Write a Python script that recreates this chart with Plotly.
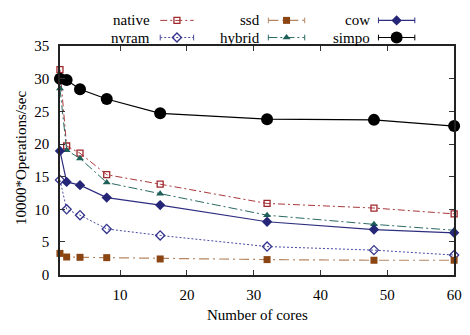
import plotly.graph_objects as go

cores = [1, 2, 4, 8, 16, 32, 48, 60]
native = [31.4, 19.7, 18.6, 15.3, 13.85, 10.9, 10.2, 9.3]
nvram = [14.5, 10.0, 9.1, 7.0, 6.0, 4.3, 3.75, 3.0]
ssd = [3.25, 2.7, 2.65, 2.6, 2.4, 2.3, 2.2, 2.2]
hybrid = [28.5, 19.05, 17.8, 14.1, 12.4, 9.1, 7.7, 6.8]
cow = [18.95, 14.2, 13.7, 11.8, 10.65, 8.1, 6.9, 6.4]
simpo = [30.0, 29.8, 28.4, 26.9, 24.7, 23.8, 23.7, 22.75]

names = ["native", "nvram", "ssd", "hybrid", "cow", "simpo"]
values = [native, nvram, ssd, hybrid, cow, simpo]
styles = {
    "native": dict(lc="#a8383b", mc="#a0282d", dash="7px,3px,2px,3px", sym="square-open", ms=6, lw=1),
    "nvram": dict(lc="#4a4aa0", mc="#34348c", dash="2px,2px", sym="diamond-open", ms=7, lw=1),
    "ssd": dict(lc="#b58560", mc="#8b4513", dash="10px,4px,2px,4px", sym="square", ms=7, lw=1.2),
    "hybrid": dict(lc="#2a6a62", mc="#1e5f57", dash="9px,3px,2px,3px", sym="triangle-up", ms=7, lw=1),
    "cow": dict(lc="#2e2e80", mc="#262678", dash="solid", sym="diamond", ms=8, lw=1.2),
    "simpo": dict(lc="#000000", mc="#000000", dash="solid", sym="circle", ms=12, lw=1.2),
}

W, H = 470, 335
PX0, PX1, PY0, PY1 = 61, 462, 40, 280
FONT = "Liberation Serif"

fig = go.Figure()
for n, v in zip(names, values):
    s = styles[n]
    fig.add_trace(go.Scatter(
        x=cores, y=v, mode="lines+markers", name=n, showlegend=False,
        line=dict(color=s["lc"], width=s["lw"], dash=s["dash"]),
        marker=dict(symbol=s["sym"], size=s["ms"], color=s["mc"],
                    line=dict(color=s["mc"], width=1.3 if "open" in s["sym"] else 0)),
        cliponaxis=False,
    ))

# custom gnuplot-style legend in pixel space (axis x2/y2)
leg_cols = [(155, 163, 197), (267, 273, 310), (378, 385, 422)]
leg_rows = [13, 31]
order = [["native", "ssd", "cow"], ["nvram", "hybrid", "simpo"]]
for ri, row in enumerate(order):
    yy = leg_rows[ri]
    for ci, n in enumerate(row):
        tx, x0, x1 = leg_cols[ci]
        s = styles[n]
        xm = (x0 + x1) / 2
        fig.add_trace(go.Scatter(x=[x0, x1], y=[yy, yy], mode="lines", xaxis="x2", yaxis="y2",
                                 showlegend=False, hoverinfo="skip",
                                 line=dict(color=s["lc"], width=s["lw"], dash=s["dash"])))
        if n != "native":
            fig.add_trace(go.Scatter(x=[x0, x0, None, x1, x1], y=[yy - 3, yy + 3, None, yy - 3, yy + 3],
                                     mode="lines", xaxis="x2", yaxis="y2", showlegend=False,
                                     hoverinfo="skip", line=dict(color=s["lc"], width=1)))
        fig.add_trace(go.Scatter(x=[xm], y=[yy], mode="markers", xaxis="x2", yaxis="y2",
                                 showlegend=False, hoverinfo="skip", cliponaxis=False,
                                 marker=dict(symbol=s["sym"], size=s["ms"], color=s["mc"],
                                             line=dict(color=s["mc"], width=1.3 if "open" in s["sym"] else 0))))
        fig.add_annotation(x=tx, y=yy, xref="x2", yref="y2", text=n, showarrow=False,
                           xanchor="right", yanchor="middle",
                           font=dict(family=FONT, size=15, color="#000"))

axis_common = dict(showgrid=False, zeroline=False, showline=True, linecolor="#222", linewidth=1.5,
                   ticks="inside", ticklen=5, tickwidth=1, tickcolor="#333", mirror="ticks",
                   tickfont=dict(family=FONT, size=15, color="#000"))

fig.update_layout(
    width=W, height=H,
    margin=dict(l=0, r=0, t=0, b=0),
    paper_bgcolor="white", plot_bgcolor="white",
    font=dict(family=FONT, size=15, color="#000"),
    xaxis=dict(domain=[PX0 / W, PX1 / W], range=[1, 60], tickvals=[10, 20, 30, 40, 50, 60],
               ticklabelstandoff=6, **axis_common),
    yaxis=dict(domain=[(H - PY1) / H, (H - PY0) / H], range=[0, 35], dtick=5,
               ticklabelstandoff=6, **axis_common),
    xaxis2=dict(domain=[0, 1], range=[0, W], visible=False, anchor="y2"),
    yaxis2=dict(domain=[(H - PY0) / H, 1], range=[PY0, 0], visible=False, anchor="x2"),
    showlegend=False,
)

fig.add_annotation(x=(PX0 + PX1) / 2 / W, y=(H - 322) / H, xref="paper", yref="paper",
                   text="Number of cores", showarrow=False, xanchor="center", yanchor="middle",
                   font=dict(family=FONT, size=15, color="#000"))
fig.add_annotation(x=22 / W, y=(H - 158) / H, xref="paper", yref="paper",
                   text="10000*Operations/sec", showarrow=False, textangle=-90,
                   xanchor="center", yanchor="middle",
                   font=dict(family=FONT, size=15, color="#000"))

fig.write_html("out.html")
